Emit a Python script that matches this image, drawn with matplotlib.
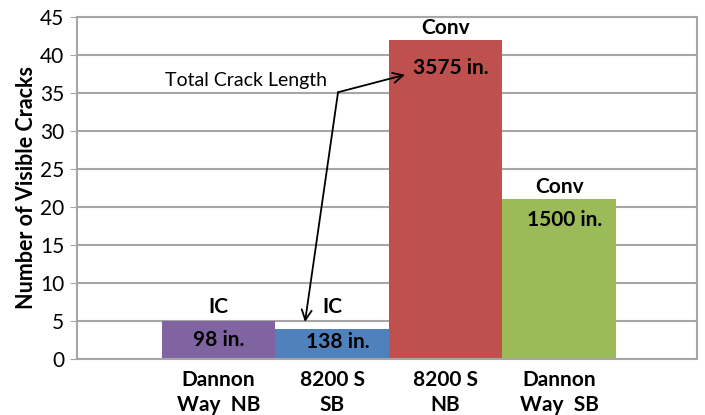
import matplotlib.pyplot as plt

# ----------------------------
# Data
# ----------------------------
sites = ["Dannon\nWay  NB", "8200 S\nSB", "8200 S\nNB", "Dannon\nWay  SB"]
cracks = [5, 4, 42, 21]
deck_type = ["IC", "IC", "Conv", "Conv"]
crack_length = ["98 in.", "138 in.", "3575 in.", "1500 in."]
colors = ["#8064A2", "#4F81BD", "#C0504D", "#9BBB59"]

plt.rcParams["font.family"] = ["Lato", "DejaVu Sans"]
grid_col = "#A6A6A6"

fig = plt.figure(figsize=(7.05, 4.15), dpi=100)
ax = fig.add_axes([0.109, 0.135, 0.88, 0.824])

x = range(len(sites))
ax.bar(x, cracks, width=1.0, color=colors, zorder=2)

# type labels above bars, lengths inside
type_off = [1.8, 2.8, 1.5, 1.6]
len_pos = [2.5, 2.2, 38.3, 18.3]
len_dx = [0.0, 0.05, 0.05, 0.05]
for i, v in enumerate(cracks):
    ax.text(i, v + type_off[i], deck_type[i], ha="center", va="center",
            fontsize=15, fontweight="bold", zorder=4)
    ax.text(i + len_dx[i], len_pos[i], crack_length[i], ha="center", va="center",
            fontsize=15, fontweight="bold", zorder=4)

# annotation with two arrows from one elbow
elbow = (1.053, 35.1)
ax.text(-0.47, 36.7, "Total Crack Length", ha="left", va="center", fontsize=14, zorder=4)
ax.annotate("", xy=(1.643, 37.4), xytext=elbow,
            arrowprops=dict(arrowstyle="->", color="black", lw=1.3, mutation_scale=18,
                            shrinkA=0, shrinkB=0), zorder=5)
ax.annotate("", xy=(0.762, 4.87), xytext=elbow,
            arrowprops=dict(arrowstyle="->", color="black", lw=1.3, mutation_scale=18,
                            shrinkA=0, shrinkB=0), zorder=5)

ax.set_xlim(-1.247, 4.216)
ax.set_ylim(0, 45)
ax.set_yticks(range(0, 46, 5))
ax.set_xticks(list(x))
ax.set_xticklabels(sites, fontsize=15, fontweight="bold", linespacing=1.3)
ax.tick_params(axis="x", length=0, pad=8)
ax.tick_params(axis="y", length=5, color=grid_col, labelsize=15, pad=4)
ax.set_ylabel("Number of Visible Cracks", fontsize=15.5, fontweight="bold", labelpad=2)

ax.yaxis.grid(True, color=grid_col, lw=1.5, zorder=0)
ax.set_axisbelow(True)
for s in ax.spines.values():
    s.set_color(grid_col)
    s.set_linewidth(1.5)

fig.savefig("out.png", dpi=100)
